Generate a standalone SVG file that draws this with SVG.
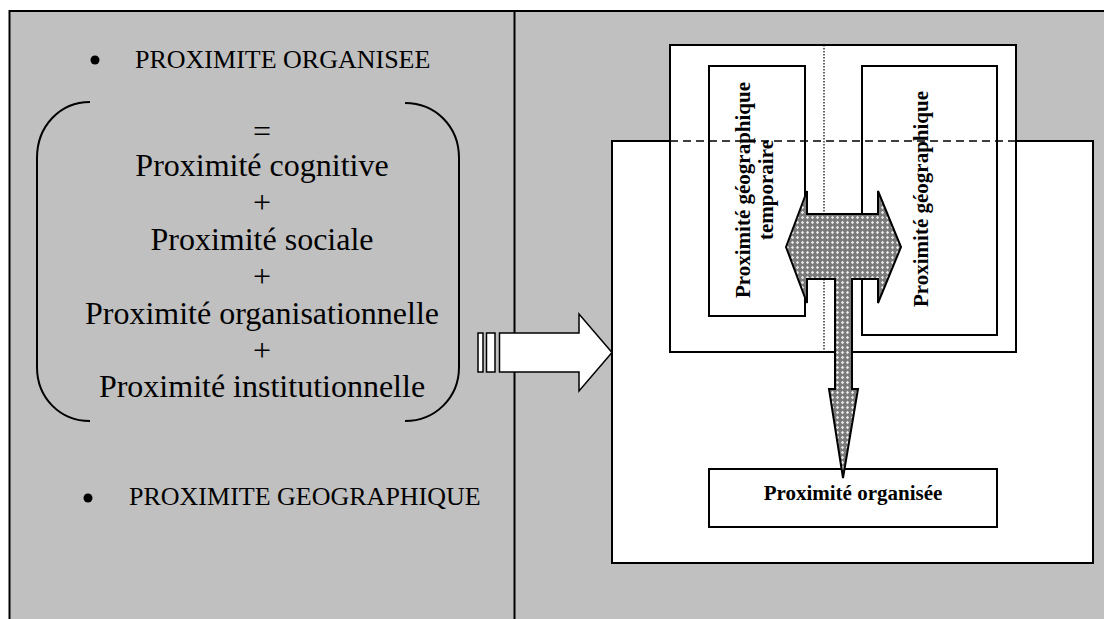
<svg xmlns="http://www.w3.org/2000/svg" width="1104" height="619" viewBox="0 0 1104 619">
  <defs>
    <pattern id="hatch" width="5" height="5" patternUnits="userSpaceOnUse">
      <rect width="5" height="5" fill="#7a7a7a"/>
      <path d="M2.5 0.8 L4.2 2.5 L2.5 4.2 L0.8 2.5 Z" fill="#e8e8e8"/>
    </pattern>
  </defs>
  <style>
    .serif { font-family: "Liberation Serif", "Times New Roman", serif; fill: #000; }
    .big { font-size: 32px; text-anchor: middle; }
    .caps { font-size: 26px; }
    .bold { font-size: 21px; font-weight: bold; text-anchor: middle; }
    .box { fill: #fff; stroke: #000; stroke-width: 2; }
    .line { fill: none; stroke: #000; stroke-width: 2; }
  </style>

  <!-- table background -->
  <g id="table">
    <rect x="0" y="0" width="1104" height="619" fill="#fff"/>
    <rect x="10" y="11" width="1094" height="608" fill="#c0c0c0"/>
    <path class="line" d="M9.5 619 L9.5 11 L1104 11" stroke-width="2.5"/>
    <line class="line" x1="514.5" y1="11" x2="514.5" y2="619"/>
  </g>

  <!-- left cell -->
  <g id="left-cell">
    <circle cx="95" cy="60" r="4.5" fill="#000"/>
    <text class="serif caps" x="135" y="68">PROXIMITE ORGANISEE</text>
    <g id="bracket">
      <path class="line" d="M90 102 C60 102 37 126 37 158 L37 367 C37 398 60 421 90 421"/>
      <path class="line" d="M405 103 C435 103 459 126 459 158 L459 367 C459 398 435 421 405 421"/>
    </g>
    <text class="serif big" x="262" y="142">=</text>
    <text class="serif big" x="262" y="176">Proximité cognitive</text>
    <text class="serif big" x="262" y="213">+</text>
    <text class="serif big" x="262" y="250">Proximité sociale</text>
    <text class="serif big" x="262" y="287">+</text>
    <text class="serif big" x="262" y="324">Proximité organisationnelle</text>
    <text class="serif big" x="262" y="361">+</text>
    <text class="serif big" x="262" y="397">Proximité institutionnelle</text>
    <circle cx="88" cy="498" r="4.5" fill="#000"/>
    <text class="serif caps" x="129" y="505">PROXIMITE GEOGRAPHIQUE</text>
  </g>

  <!-- right cell -->
  <g id="outer-box">
    <rect class="box" x="612" y="141" width="481" height="422"/>
  </g>
  <g id="upper-box">
    <rect class="box" x="670" y="45" width="346" height="307"/>
    <line x1="824" y1="45" x2="824" y2="352" stroke="#000" stroke-width="1.2" stroke-dasharray="1.5 1.5"/>
  </g>
  <g id="box-temporaire">
    <rect class="box" x="709" y="66" width="96" height="250"/>
    <text class="serif bold" transform="translate(750,190) rotate(-90)">Proximité géographique</text>
    <text class="serif bold" transform="translate(773,190) rotate(-90)">temporaire</text>
  </g>
  <g id="box-geographique">
    <rect class="box" x="862" y="66" width="135" height="269"/>
    <text class="serif bold" transform="translate(928,199) rotate(-90)">Proximité géographique</text>
  </g>
  <g id="box-organisee">
    <rect class="box" x="709" y="469" width="288" height="58"/>
    <text class="serif bold" x="853" y="500">Proximité organisée</text>
  </g>

  <!-- connectors -->
  <g id="connectors">
    <g id="hollow-arrow" fill="#fff" stroke="#000" stroke-width="1.5">
      <rect x="478" y="333" width="5" height="39"/>
      <rect x="486.5" y="333" width="8.5" height="39"/>
      <path d="M499.5 333 L579 333 L579 314 L612 352.5 L579 391 L579 372 L499.5 372 Z"/>
    </g>
    <path id="double-arrow" fill="url(#hatch)" stroke="#000" stroke-width="2" stroke-linejoin="miter"
      d="M786 247 L807 191 L807 214 L878 214 L878 191 L901 247 L878 303 L878 279 L852 279 L852 389 L858 389 L843 478 L829 389 L835 389 L835 279 L807 279 L807 303 Z"/>
    <line x1="670" y1="141" x2="1035" y2="141" stroke="#000" stroke-width="1.5" stroke-dasharray="8 5"/>
  </g>
</svg>
